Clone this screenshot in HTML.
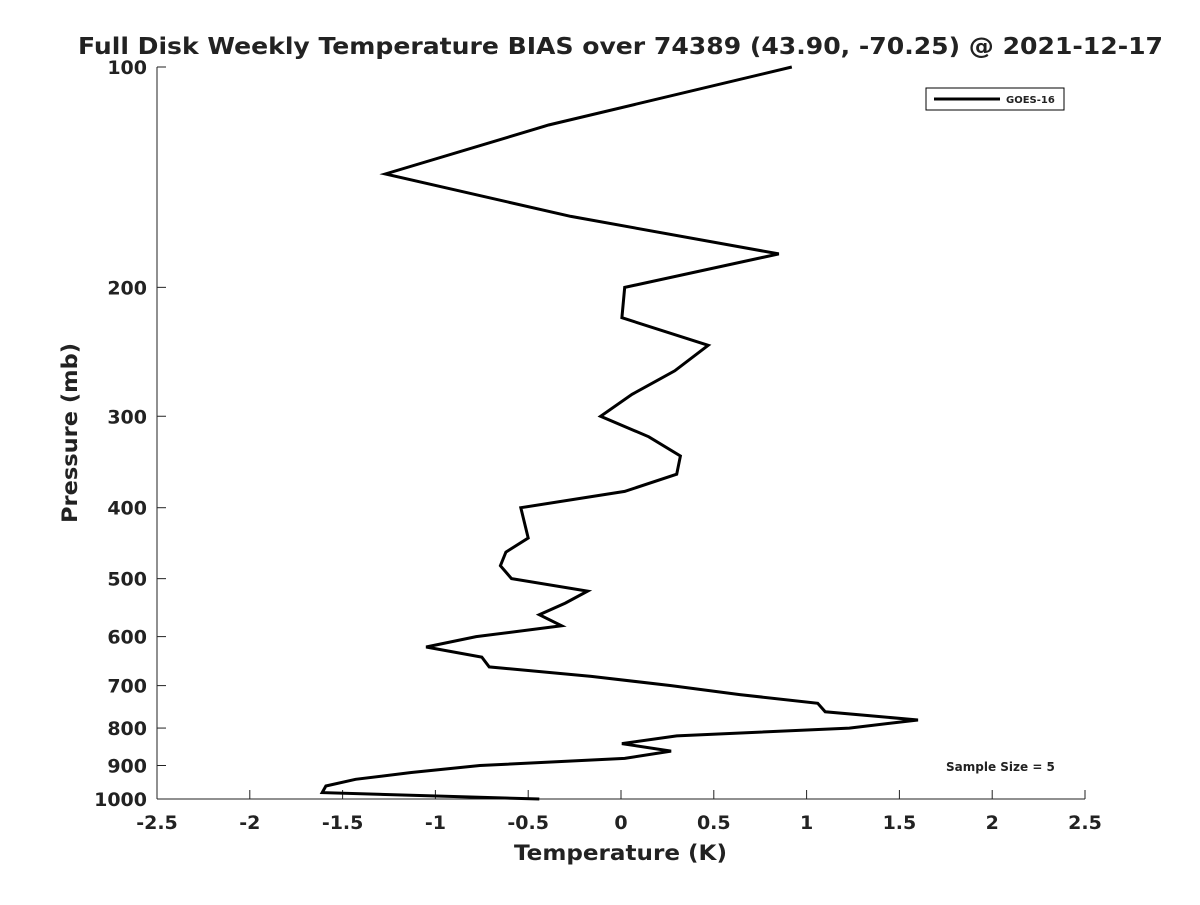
<!DOCTYPE html>
<html><head><meta charset="utf-8"><style>
body{margin:0;background:#fff;}
text{font-family:"DejaVu Sans","Liberation Sans",sans-serif;font-weight:bold;fill:#222;}
</style></head><body>
<svg id="chart" width="1200" height="900" xmlns="http://www.w3.org/2000/svg">
<rect width="1200" height="900" fill="#fff"/>
<text x="78" y="54" font-size="23" fill="#000" textLength="1085" lengthAdjust="spacingAndGlyphs">Full Disk Weekly Temperature BIAS over 74389 (43.90, -70.25) @ 2021-12-17</text>
<g id="axes"></g>
<g id="series"></g>
<g>
<rect x="926" y="88" width="138" height="22" fill="#fff" stroke="#000" stroke-width="1"/>
<line x1="934" y1="99" x2="1000" y2="99" stroke="#000" stroke-width="3"/>
<text x="1006" y="103" font-size="10" fill="#000">GOES-16</text>
</g>
<text x="946" y="771" font-size="12" fill="#000">Sample Size = 5</text>
<text x="514" y="860" font-size="21" textLength="213" lengthAdjust="spacingAndGlyphs">Temperature (K)</text>
<text transform="translate(77,523) rotate(-90)" font-size="21" textLength="180" lengthAdjust="spacingAndGlyphs">Pressure (mb)</text>
</svg>
<script>
const xTicks=[-2.5,-2,-1.5,-1,-0.5,0,0.5,1,1.5,2,2.5];
const yTicks=[100,200,300,400,500,600,700,800,900,1000];
const pressure=[100,120,140,160,180,200,220,240,260,280,300,320,340,360,380,400,440,460,480,500,520,540,560,580,600,620,640,660,680,700,720,740,760,780,800,820,840,860,880,900,920,940,960,980,1000];
const bias=[0.92,-0.39,-1.27,-0.27,0.85,0.02,0.005,0.47,0.29,0.06,-0.11,0.15,0.32,0.30,0.02,-0.54,-0.50,-0.62,-0.65,-0.59,-0.18,-0.30,-0.44,-0.32,-0.78,-1.05,-0.75,-0.71,-0.16,0.27,0.64,1.06,1.10,1.60,1.23,0.30,0.005,0.27,0.02,-0.76,-1.13,-1.43,-1.59,-1.61,-0.44];
const NS="http://www.w3.org/2000/svg";
const L=157,R=1085,T=67,B=799;
function xs(v){return L+(v+2.5)/5*(R-L);}
function ys(p){return T+Math.log10(p/100)*(B-T);}
const ax=document.getElementById('axes');
function mk(tag,attrs,parent){const e=document.createElementNS(NS,tag);for(const k in attrs)e.setAttribute(k,attrs[k]);parent.appendChild(e);return e;}
const xl=mk('line',{x1:L,y1:B,x2:R,y2:B,stroke:'#222','stroke-width':1},ax);


const yl=mk('line',{x1:L,y1:T,x2:L,y2:B,stroke:'#222','stroke-width':1},ax);


xTicks.forEach(v=>{
 const x=xs(v);
 mk('line',{x1:x,y1:B,x2:x,y2:B-9,stroke:'#222'},ax);
 const t=mk('text',{x:x,y:829,'text-anchor':'middle','font-size':19},ax);
 t.textContent=String(v);
 
 
});
yTicks.forEach(p=>{
 const y=ys(p);
 mk('line',{x1:L,y1:y,x2:L+9,y2:y,stroke:'#222'},ax);
 const t=mk('text',{x:147,y:y+7,'text-anchor':'end','font-size':19},ax);
 t.textContent=String(p);
 
 
});
const pts=pressure.map((p,i)=>xs(bias[i]).toFixed(1)+','+ys(p).toFixed(1)).join(' ');
const pl=mk('polyline',{points:pts,fill:'none',stroke:'#000','stroke-width':3,'stroke-linejoin':'miter'},document.getElementById('series'));


</script>
</body></html>
